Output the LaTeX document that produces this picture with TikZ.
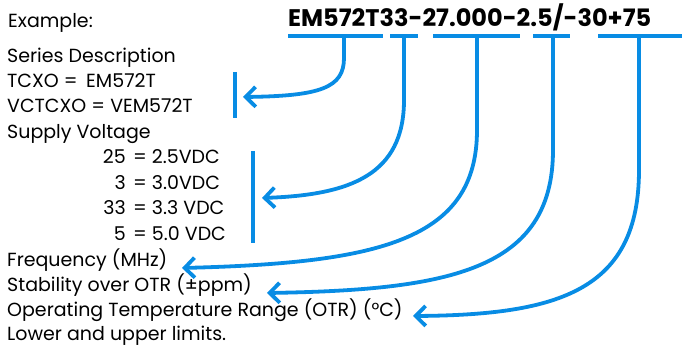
\documentclass[tikz,border=0pt]{standalone}
\usepackage{fontspec}
\setmainfont{Poppins}
\usetikzlibrary{arrows.meta}
\definecolor{lnblue}{RGB}{8,140,228}
\tikzset{
  txt/.style={anchor=base west,inner sep=0pt,font=\fontsize{19}{21}\selectfont},
  txtr/.style={anchor=base east,inner sep=0pt,font=\fontsize{19}{21}\selectfont},
  code/.style={anchor=base west,inner sep=0pt,font=\fontsize{24}{26}\selectfont\bfseries},
  bar/.style={draw=lnblue,line width=4.5pt},
  lead/.style={draw=lnblue,line width=3.8pt,-{Straight Barb[length=10pt,width=20pt]}},
}
\begin{document}
\begin{tikzpicture}[x=1pt,y=-1pt]
\useasboundingbox (0,0) rectangle (683,347);
% texts
\node[txt] (ex) at (8,28) {Example:};
\node[code] (code) at (288,27) {EM572T33-27.000-2.5/-30+75};
\node[txt] (ser) at (7,63) {Series Description};
\node[txt] (tc) at (7,88) {TCXO =\hspace{0.45em}EM572T};
\node[txt] (vc) at (7,113) {VCTCXO = VEM572T};
\node[txt] (sv) at (7,139) {Supply Voltage};
\node[txtr] (n1) at (126,164) {25};
\node[txt] (v1) at (133,164) {= 2.5VDC};
\node[txtr] (n2) at (126,190) {3};
\node[txt] (v2) at (133,190) {= 3.0VDC};
\node[txtr] (n3) at (126,215) {33};
\node[txt] (v3) at (133,215) {= 3.3 VDC};
\node[txtr] (n4) at (126,241) {5};
\node[txt] (v4) at (133,241) {= 5.0 VDC};
\node[txt] (fr) at (7,267) {Frequency (MHz)};
\node[txt] (st) at (7,292) {Stability over OTR (±ppm)};
\node[txt] (op) at (7,317) {Operating Temperature Range (OTR) (°C)};
\node[txt] (lo) at (7,341) {Lower and upper limits.};
% horizontal bars under the code
\coordinate (b1l) at (288,36); \coordinate (b1r) at (383,36);
\coordinate (b2l) at (390,36); \coordinate (b2r) at (418,36);
\coordinate (b3l) at (433,36); \coordinate (b3r) at (520,36);
\coordinate (b4l) at (533,36); \coordinate (b4r) at (570,36);
\coordinate (b5l) at (598,36); \coordinate (b5r) at (682,36);
\draw[bar] (b1l) -- (b1r);
\draw[bar] (b2l) -- (b2r);
\draw[bar] (b3l) -- (b3r);
\draw[bar] (b4l) -- (b4r);
\draw[bar] (b5l) -- (b5r);
% vertical group bars
\coordinate (g1t) at (235,72); \coordinate (g1b) at (235,118);
\coordinate (g2t) at (253,151); \coordinate (g2b) at (253,243);
\draw[bar] (g1t) -- (g1b);
\draw[bar] (g2t) -- (g2b);
% stems and tips
\coordinate (s1) at (344,36); \coordinate (t1) at (243,97);
\coordinate (s2) at (404,36); \coordinate (t2) at (262,198);
\coordinate (s3) at (477,36); \coordinate (t3) at (182,268);
\coordinate (s4) at (553,36); \coordinate (t4) at (267,293);
\coordinate (s5) at (639,36); \coordinate (t5) at (413,316);
\draw[lead] (s1) -- ++(0,22) .. controls (344,88) and (320,96) .. (t1);
\draw[lead] (s2) -- ++(0,64) .. controls (404,175) and (350,195) .. (t2);
\draw[lead] (s3) -- ++(0,94) .. controls (477,240) and (380,263) .. (t3);
\draw[lead] (s4) -- ++(0,114) .. controls (553,270) and (450,290) .. (t4);
\draw[lead] (s5) -- ++(0,134) .. controls (639,290) and (560,315) .. (t5);
\end{tikzpicture}
\end{document}
